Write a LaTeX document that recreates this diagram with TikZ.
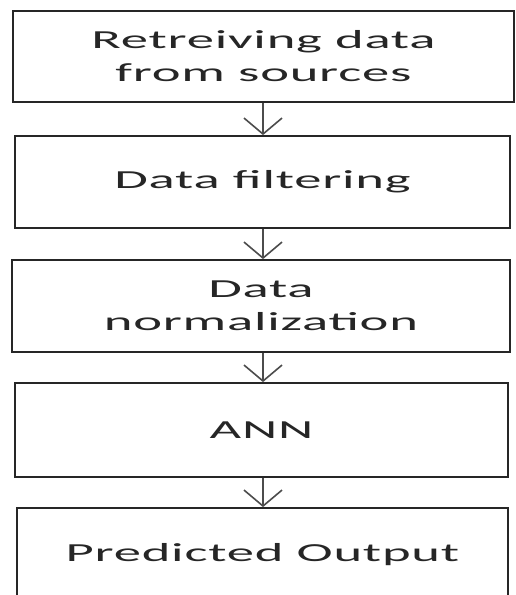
\documentclass[tikz,border=0pt]{standalone}
\usepackage{fontspec}
\newfontfamily\boxfont[FakeStretch=2.1,LetterSpace=3]{Carlito}
\usetikzlibrary{arrows.meta}
\tikzset{
  stage/.style={draw=black!85, line width=1.8pt, inner sep=0pt, align=center,
    font=\boxfont\fontsize{26}{33}\selectfont, text=black!85},
  flow/.style={draw=black!70, line width=1.8pt,
    -{Straight Barb[length=16pt,width=38pt,line width=1.6pt]}}
}
\begin{document}
\begin{tikzpicture}[x=1pt,y=-1pt]
\clip (0,0) rectangle (515,595);
\fill[white] (0,0) rectangle (515,595);
\node[stage, minimum width=501pt, minimum height=91pt] (s1) at (263.5,56.5) {Retreiving data\\from sources};
\node[stage, minimum width=495pt, minimum height=92pt] (s2) at (262.5,182) {Data filtering};
\node[stage, minimum width=498pt, minimum height=92pt] (s3) at (261,306) {Data\\normalization};
\node[stage, minimum width=493pt, minimum height=94pt] (s4) at (261.5,430) {ANN};
\node[stage, minimum width=491pt, minimum height=94pt] (s5) at (262.5,555) {Predicted Output};
\draw[flow] (s1.south -| 263,0) -- (s2.north -| 263,0);
\draw[flow] (s2.south -| 263,0) -- (s3.north -| 263,0);
\draw[flow] (s3.south -| 263,0) -- (s4.north -| 263,0);
\draw[flow] (s4.south -| 263,0) -- (s5.north -| 263,0);
\end{tikzpicture}
\end{document}
